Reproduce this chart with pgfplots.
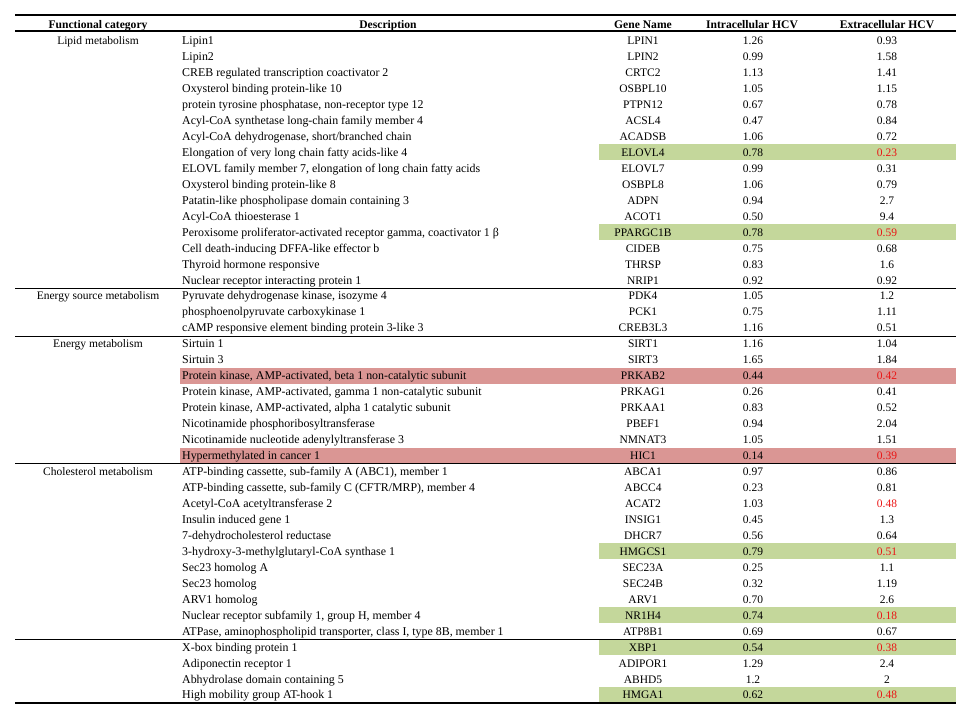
\documentclass[border=0pt]{standalone}
\usepackage{pgfplots}
\usepackage{pgfplotstable}
\pgfplotsset{compat=1.18}
\usepackage{fontspec}
\setmainfont{Liberation Serif}
\definecolor{hlgreen}{RGB}{196,215,155}
\definecolor{hlpink}{RGB}{218,150,148}
\definecolor{valred}{RGB}{235,20,20}

\pgfplotstableread[col sep=semicolon]{
r;desc;gene;intra;extra;red
1;Lipin1;LPIN1;1.26;0.93;0
2;Lipin2;LPIN2;0.99;1.58;0
3;CREB regulated transcription coactivator 2;CRTC2;1.13;1.41;0
4;Oxysterol binding protein-like 10;OSBPL10;1.05;1.15;0
5;protein tyrosine phosphatase, non-receptor type 12;PTPN12;0.67;0.78;0
6;Acyl-CoA synthetase long-chain family member 4;ACSL4;0.47;0.84;0
7;Acyl-CoA dehydrogenase, short/branched chain;ACADSB;1.06;0.72;0
8;Elongation of very long chain fatty acids-like 4;ELOVL4;0.78;0.23;1
9;ELOVL family member 7, elongation of long chain fatty acids;ELOVL7;0.99;0.31;0
10;Oxysterol binding protein-like 8;OSBPL8;1.06;0.79;0
11;Patatin-like phospholipase domain containing 3;ADPN;0.94;2.7;0
12;Acyl-CoA thioesterase 1;ACOT1;0.50;9.4;0
13;Peroxisome proliferator-activated receptor gamma, coactivator 1 β;PPARGC1B;0.78;0.59;1
14;Cell death-inducing DFFA-like effector b;CIDEB;0.75;0.68;0
15;Thyroid hormone responsive;THRSP;0.83;1.6;0
16;Nuclear receptor interacting protein 1;NRIP1;0.92;0.92;0
17;Pyruvate dehydrogenase kinase, isozyme 4;PDK4;1.05;1.2;0
18;phosphoenolpyruvate carboxykinase 1;PCK1;0.75;1.11;0
19;cAMP responsive element binding protein 3-like 3;CREB3L3;1.16;0.51;0
20;Sirtuin 1;SIRT1;1.16;1.04;0
21;Sirtuin 3;SIRT3;1.65;1.84;0
22;Protein kinase, AMP-activated, beta 1 non-catalytic subunit;PRKAB2;0.44;0.42;1
23;Protein kinase, AMP-activated, gamma 1 non-catalytic subunit;PRKAG1;0.26;0.41;0
24;Protein kinase, AMP-activated, alpha 1 catalytic subunit;PRKAA1;0.83;0.52;0
25;Nicotinamide phosphoribosyltransferase;PBEF1;0.94;2.04;0
26;Nicotinamide nucleotide adenylyltransferase 3;NMNAT3;1.05;1.51;0
27;Hypermethylated in cancer 1;HIC1;0.14;0.39;1
28;ATP-binding cassette, sub-family A (ABC1), member 1;ABCA1;0.97;0.86;0
29;ATP-binding cassette, sub-family C (CFTR/MRP), member 4;ABCC4;0.23;0.81;0
30;Acetyl-CoA acetyltransferase 2;ACAT2;1.03;0.48;1
31;Insulin induced gene 1;INSIG1;0.45;1.3;0
32;7-dehydrocholesterol reductase;DHCR7;0.56;0.64;0
33;3-hydroxy-3-methylglutaryl-CoA synthase 1;HMGCS1;0.79;0.51;1
34;Sec23 homolog A;SEC23A;0.25;1.1;0
35;Sec23 homolog;SEC24B;0.32;1.19;0
36;ARV1 homolog;ARV1;0.70;2.6;0
37;Nuclear receptor subfamily 1, group H, member 4;NR1H4;0.74;0.18;1
38;ATPase, aminophospholipid transporter, class I, type 8B, member 1;ATP8B1;0.69;0.67;0
39;X-box binding protein 1;XBP1;0.54;0.38;1
40;Adiponectin receptor 1;ADIPOR1;1.29;2.4;0
41;Abhydrolase domain containing 5;ABHD5;1.2;2;0
42;High mobility group AT-hook 1;HMGA1;0.62;0.48;1
}\maintab

\pgfplotstableread[col sep=semicolon]{
x;r;label
98;0;Functional category
388;0;Description
643;0;Gene Name
752;0;Intracellular HCV
887;0;Extracellular HCV
}\headtab

\pgfplotstableread[col sep=semicolon]{
x;r;label
98;1;Lipid metabolism
98;17;Energy source metabolism
98;20;Energy metabolism
98;28;Cholesterol metabolism
}\cattab

\pgfplotsset{
  txt/.style={only marks, mark=none, point meta=explicit symbolic, nodes near coords,
    every node near coord/.append style={font=\fontsize{11.5}{13}\selectfont, inner sep=0pt, yshift=-3.9pt, text=#1}},
  txt/.default=black,
}

\begin{document}
\begin{tikzpicture}
\begin{axis}[
  scale only axis, width=971pt, height=718pt,
  xmin=0, xmax=971, ymin=-1.55, ymax=43.437, y dir=reverse,
  hide axis, clip=false,
]
% frame extent
\addplot[draw=none, mark=none] coordinates {(0,-1.55) (971,43.437)};
% highlighted rows
\addplot[fill=hlgreen, draw=none] coordinates {(599,7.5) (956,7.5) (956,8.5) (599,8.5)};
\addplot[fill=hlgreen, draw=none] coordinates {(599,12.5) (956,12.5) (956,13.5) (599,13.5)};
\addplot[fill=hlgreen, draw=none] coordinates {(599,32.5) (956,32.5) (956,33.5) (599,33.5)};
\addplot[fill=hlgreen, draw=none] coordinates {(599,36.5) (956,36.5) (956,37.5) (599,37.5)};
\addplot[fill=hlgreen, draw=none] coordinates {(599,38.5) (956,38.5) (956,39.5) (599,39.5)};
\addplot[fill=hlgreen, draw=none] coordinates {(599,41.5) (956,41.5) (956,42.5) (599,42.5)};
\addplot[fill=hlpink, draw=none] coordinates {(180,21.5) (956,21.5) (956,22.5) (180,22.5)};
\addplot[fill=hlpink, draw=none] coordinates {(180,26.5) (956,26.5) (956,27.5) (180,27.5)};
% rules
\addplot[black, line width=1.7pt, mark=none] coordinates {(15,-0.6) (956,-0.6)};
\addplot[black, line width=1.7pt, mark=none] coordinates {(15,0.4) (956,0.4)};
\addplot[black, line width=0.8pt, mark=none] coordinates {(15,16.5) (956,16.5)};
\addplot[black, line width=0.8pt, mark=none] coordinates {(15,19.5) (956,19.5)};
\addplot[black, line width=0.8pt, mark=none] coordinates {(15,27.5) (956,27.5)};
\addplot[black, line width=0.8pt, mark=none] coordinates {(15,38.5) (956,38.5)};
\addplot[black, line width=1.2pt, mark=none] coordinates {(15,42.5) (956,42.5)};
% header
\addplot[txt, nodes near coords align={anchor=base},
  every node near coord/.append style={font=\fontsize{11.6}{13}\selectfont\bfseries}]
  table[x=x, y=r, meta=label]{\headtab};
% categories
\addplot[txt, nodes near coords align={anchor=base}] table[x=x, y=r, meta=label]{\cattab};
% descriptions
\addplot[txt, nodes near coords align={anchor=base west},
  every node near coord/.append style={font=\fontsize{11.9}{13}\selectfont}]
  table[x expr=182, y=r, meta=desc]{\maintab};
% gene names
\addplot[txt, nodes near coords align={anchor=base}] table[x expr=643, y=r, meta=gene]{\maintab};
% intracellular
\addplot[txt, nodes near coords align={anchor=base}] table[x expr=753, y=r, meta=intra]{\maintab};
% extracellular (black)
\addplot[txt, nodes near coords align={anchor=base}, restrict expr to domain={\thisrow{red}}{0:0}]
  table[x expr=887, y=r, meta=extra]{\maintab};
% extracellular (red)
\addplot[txt=valred, nodes near coords align={anchor=base}, restrict expr to domain={\thisrow{red}}{1:1}]
  table[x expr=887, y=r, meta=extra]{\maintab};
\end{axis}
\end{tikzpicture}
\end{document}
